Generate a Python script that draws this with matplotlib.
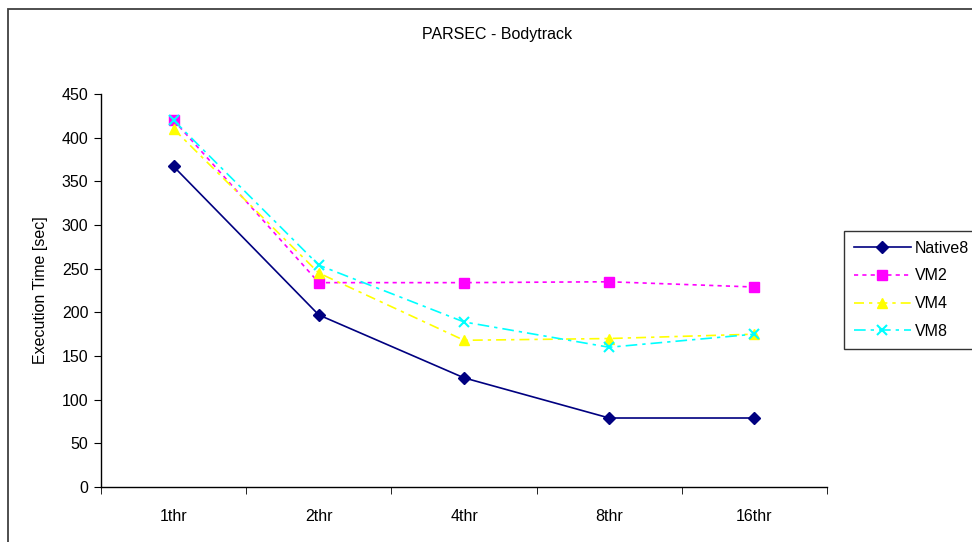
import matplotlib.pyplot as plt
from matplotlib.patches import Rectangle

plt.rcParams['font.family'] = ['Liberation Sans', 'DejaVu Sans']

threads = ["1thr", "2thr", "4thr", "8thr", "16thr"]
native8 = [367, 197, 125, 79, 79]
vm2 = [420, 234, 234, 235, 229]
vm4 = [410, 245, 168, 170, 175]
vm8 = [420, 254, 189, 160, 175]

fig = plt.figure(figsize=(9.72, 5.42), dpi=100)
W, H = 972, 542
fs = 11.5

# outer chart border (runs off the right and bottom edges)
fig.patches.append(Rectangle((8 / W, -0.1), 1.2, 1 - 9 / H + 0.1,
                             transform=fig.transFigure, fill=False,
                             edgecolor="#404040", linewidth=1.3))

ax = fig.add_axes([101 / W, 1 - 487 / H, (827 - 101) / W, (487 - 94) / H])
x = range(len(threads))

ax.plot(x, native8, color="#000080", lw=1.2, marker="D", ms=6,
        label="Native8")
ax.plot(x, vm2, color="#FF00FF", lw=1.2, ls=(0, (2.5, 2.5)), marker="s",
        ms=6.5, label="VM2")
ax.plot(x, vm4, color="#FFFF00", lw=1.2, ls=(0, (6, 3, 2, 3)), marker="^",
        ms=7.5, label="VM4")
ax.plot(x, vm8, color="#00FFFF", lw=1.2, ls=(0, (7, 3, 2, 3)), marker="x",
        ms=7, mew=1.5, label="VM8")

ax.set_xlim(-0.5, 4.5)
ax.set_ylim(0, 450)
ax.set_yticks(range(0, 451, 50))
ax.set_xticks(list(x))
ax.set_xticklabels(threads, fontsize=fs)
ax.set_xticks([i - 0.5 for i in range(len(threads) + 1)], minor=True)
ax.tick_params(axis="x", which="major", length=0, pad=16)
ax.tick_params(axis="x", which="minor", length=5, direction="out")
ax.tick_params(axis="y", length=5, direction="out", labelsize=fs, pad=4)

for s in ["top", "right"]:
    ax.spines[s].set_visible(False)
for s in ["left", "bottom"]:
    ax.spines[s].set_linewidth(1.0)

ax.set_ylabel("Execution Time [sec]", fontsize=fs, labelpad=10)
fig.text(497 / W, 1 - 34 / H, "PARSEC - Bodytrack", ha="center",
         va="center", fontsize=fs)

leg = ax.legend(loc="upper left", bbox_to_anchor=(844 / W, 1 - 231 / H),
                bbox_transform=fig.transFigure, fontsize=fs, frameon=True,
                fancybox=False, edgecolor="black", handlelength=3.6,
                labelspacing=0.8, borderaxespad=0, borderpad=0.6,
                handletextpad=0.25)
leg.get_frame().set_linewidth(1.0)

fig.savefig("out.png", dpi=100)
